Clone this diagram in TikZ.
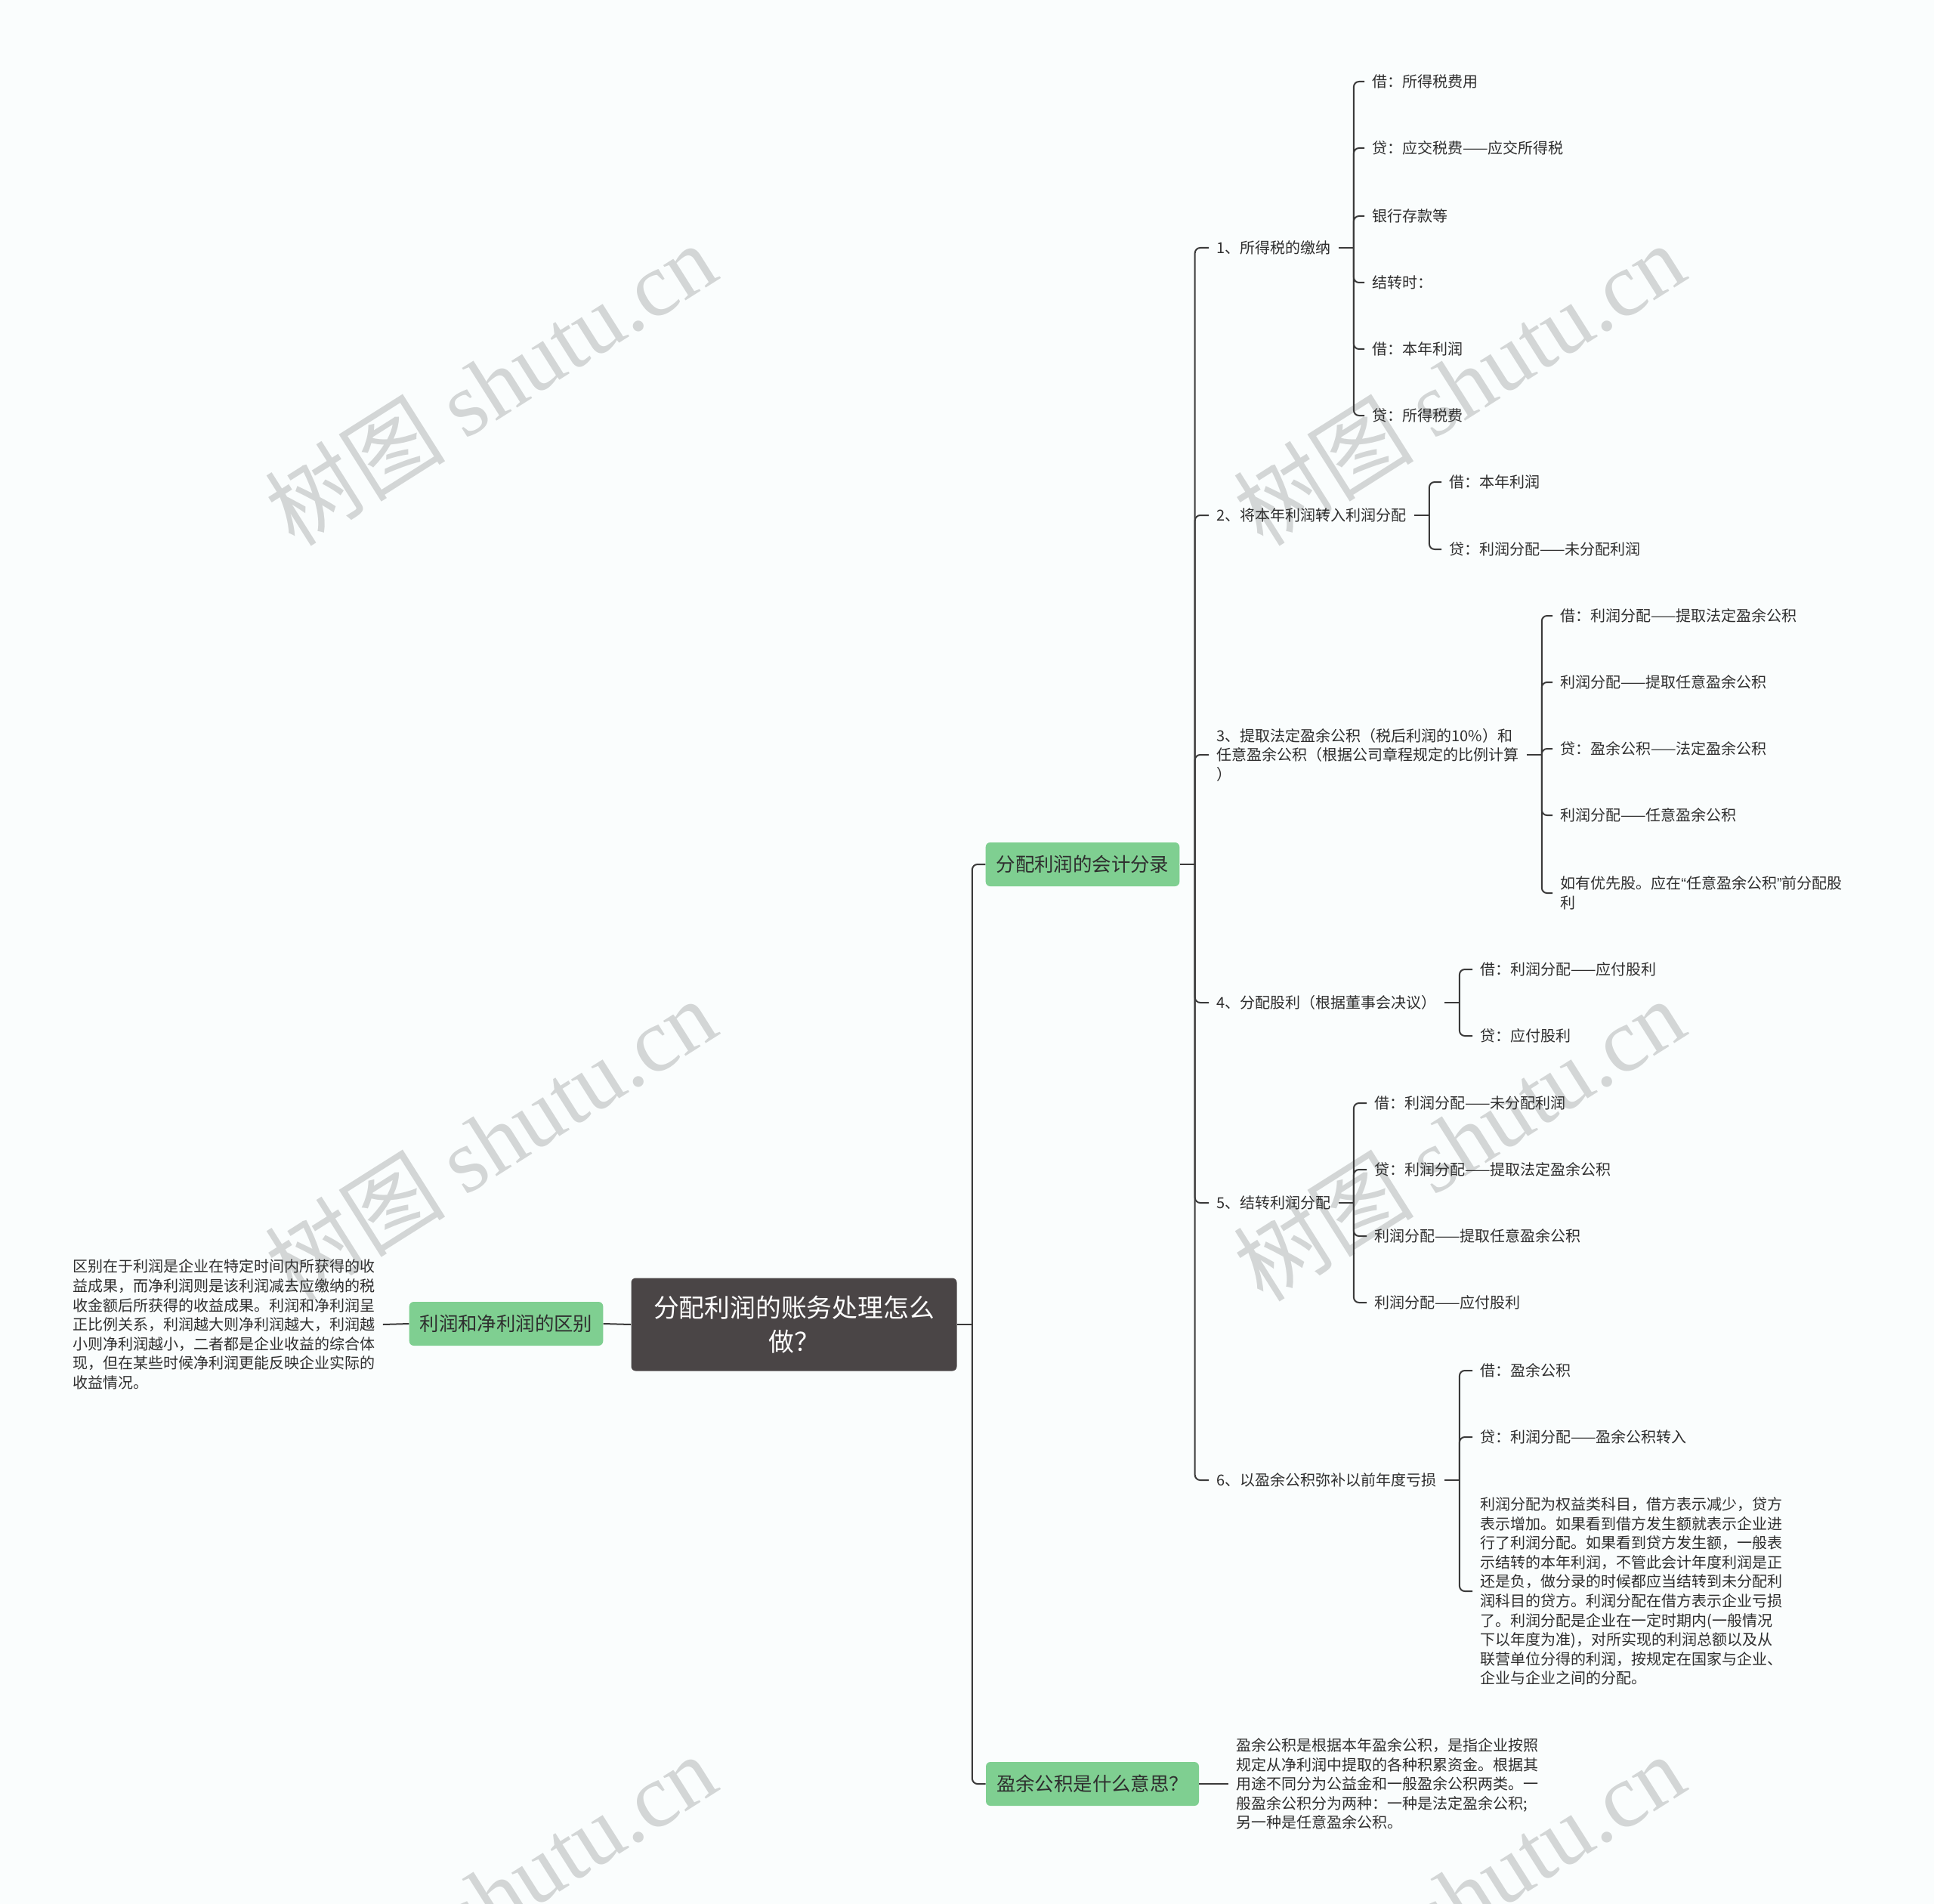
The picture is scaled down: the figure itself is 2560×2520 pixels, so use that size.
\documentclass[tikz,border=0pt]{standalone}
\usepackage{fontspec}
\setmainfont{Noto Sans CJK SC}
\newfontfamily\wmfont{Liberation Serif}
\newfontfamily\qfont{Liberation Sans}
\usepackage{tikz}
\usetikzlibrary{positioning}
\definecolor{rootc}{HTML}{4A4546}
\definecolor{greenc}{HTML}{7FCF91}
\definecolor{linec}{HTML}{3A3A3A}
\definecolor{textc}{HTML}{2E2E2E}
\definecolor{wmc}{HTML}{D3D6D6}
\definecolor{bgc}{HTML}{FAFDFD}

\begin{document}
\begin{tikzpicture}[x=0.5pt,y=-0.5pt]
\tikzstyle{root}=[rounded corners=3pt,fill=rootc,text=white,align=center,minimum width=215.5pt,minimum height=61.5pt,font=\fontsize{16.9pt}{22.9pt}\selectfont]
\tikzstyle{gbox}=[rounded corners=3pt,fill=greenc,text=textc,inner xsep=7pt,minimum height=29pt,font=\fontsize{12.7pt}{15pt}\selectfont]
\tikzstyle{leaf}=[anchor=west,align=left,text=textc,inner xsep=5pt,inner ysep=2pt,font=\fontsize{10pt}{12.8pt}\selectfont]
\tikzstyle{conn}=[draw=linec,line width=1pt,rounded corners=3.5pt]
\tikzstyle{wm}=[text=wmc,rotate=32.3,font=\fontsize{60pt}{60pt}\selectfont]
\fill[bgc] (0,0) rectangle (2560,2520);
\useasboundingbox (0,0) rectangle (2560,2520);
\begin{scope}
\clip (0,0) rectangle (2560,2520);
\node[wm] (wm1) at (649,508) {树图 {\wmfont shutu.cn}};
\node[wm] (wm2) at (1931,508) {树图 {\wmfont shutu.cn}};
\node[wm] (wm3) at (649,1508) {树图 {\wmfont shutu.cn}};
\node[wm] (wm4) at (1931,1508) {树图 {\wmfont shutu.cn}};
\node[wm] (wm5) at (649,2508) {树图 {\wmfont shutu.cn}};
\node[wm] (wm6) at (1931,2508) {树图 {\wmfont shutu.cn}};
\end{scope}
\node[root] (root) at (1051,1753) {分配利润的账务处理怎么\\做？};
\node[gbox] (diff) at (670,1752) {利润和净利润的区别};
\node[leaf] (difftxt) at (86,1753) {区别在于利润是企业在特定时间内所获得的收\\益成果，而净利润则是该利润减去应缴纳的税\\收金额后所获得的收益成果。利润和净利润呈\\正比例关系，利润越大则净利润越大，利润越\\小则净利润越小，二者都是企业收益的综合体\\现，但在某些时候净利润更能反映企业实际的\\收益情况。};
\node[gbox] (entry) at (1433,1144) {分配利润的会计分录};
\node[gbox] (surplus) at (1446,2361) {盈余公积是什么意思？};
\node[leaf] (surtxt) at (1626,2361) {盈余公积是根据本年盈余公积，是指企业按照\\规定从净利润中提取的各种积累资金。根据其\\用途不同分为公益金和一般盈余公积两类。一\\般盈余公积分为两种：一种是法定盈余公积;\\另一种是任意盈余公积。};
\node[leaf] (step1) at (1600,328) {1、所得税的缴纳};
\node[leaf] (step2) at (1600,682) {2、将本年利润转入利润分配};
\node[leaf] (step3) at (1600,999) {3、提取法定盈余公积（税后利润的10\%）和\\任意盈余公积（根据公司章程规定的比例计算\\）};
\node[leaf] (step4) at (1600,1327) {4、分配股利（根据董事会决议）};
\node[leaf] (step5) at (1600,1592) {5、结转利润分配};
\node[leaf] (step6) at (1600,1959) {6、以盈余公积弥补以前年度亏损};
\node[leaf] (tax1) at (1806,108) {借：所得税费用};
\node[leaf] (tax2) at (1806,196) {贷：应交税费——应交所得税};
\node[leaf] (tax3) at (1806,286) {银行存款等};
\node[leaf] (tax4) at (1806,374) {结转时：};
\node[leaf] (tax5) at (1806,462) {借：本年利润};
\node[leaf] (tax6) at (1806,550) {贷：所得税费};
\node[leaf] (move1) at (1908,638) {借：本年利润};
\node[leaf] (move2) at (1908,727) {贷：利润分配——未分配利润};
\node[leaf] (res1) at (2055,815) {借：利润分配——提取法定盈余公积};
\node[leaf] (res2) at (2055,903) {利润分配——提取任意盈余公积};
\node[leaf] (res3) at (2055,991) {贷：盈余公积——法定盈余公积};
\node[leaf] (res4) at (2055,1079) {利润分配——任意盈余公积};
\node[leaf] (res5) at (2055,1182) {如有优先股。应在{\qfont “}任意盈余公积{\qfont ”}前分配股\\利};
\node[leaf] (div1) at (1949,1283) {借：利润分配——应付股利};
\node[leaf] (div2) at (1949,1371) {贷：应付股利};
\node[leaf] (close1) at (1809,1460) {借：利润分配——未分配利润};
\node[leaf] (close2) at (1809,1548) {贷：利润分配——提取法定盈余公积};
\node[leaf] (close3) at (1809,1636) {利润分配——提取任意盈余公积};
\node[leaf] (close4) at (1809,1724) {利润分配——应付股利};
\node[leaf] (cover1) at (1949,1814) {借：盈余公积};
\node[leaf] (cover2) at (1949,1902) {贷：利润分配——盈余公积转入};
\node[leaf] (cover3) at (1949,2106) {利润分配为权益类科目，借方表示减少，贷方\\表示增加。如果看到借方发生额就表示企业进\\行了利润分配。如果看到贷方发生额，一般表\\示结转的本年利润，不管此会计年度利润是正\\还是负，做分录的时候都应当结转到未分配利\\润科目的贷方。利润分配在借方表示企业亏损\\了。利润分配是企业在一定时期内(一般情况\\下以年度为准)，对所实现的利润总额以及从\\联营单位分得的利润，按规定在国家与企业、\\企业与企业之间的分配。};
\draw[conn] (root.west) -- (diff.east);
\draw[conn] (diff.west) -- (difftxt.east);
\draw[conn] (root.east) -- ++(10pt,0);
\foreach \c in {entry,surplus} \draw[conn] (root.east) ++(10pt,0) |- (\c.west);
\draw[conn] (surplus.east) -- (surtxt.west);
\draw[conn] (entry.east) -- ++(10pt,0);
\foreach \i in {1,...,6} \draw[conn] (entry.east) ++(10pt,0) |- (step\i.west);
\draw[conn] (step1.east) -- ++(10pt,0);
\foreach \i in {1,...,6} \draw[conn] (step1.east) ++(10pt,0) |- (tax\i.west);
\draw[conn] (step2.east) -- ++(10pt,0);
\foreach \i in {1,2} \draw[conn] (step2.east) ++(10pt,0) |- (move\i.west);
\draw[conn] (step3.east) -- ++(10pt,0);
\foreach \i in {1,...,5} \draw[conn] (step3.east) ++(10pt,0) |- (res\i.west);
\draw[conn] (step4.east) -- ++(10pt,0);
\foreach \i in {1,2} \draw[conn] (step4.east) ++(10pt,0) |- (div\i.west);
\draw[conn] (step5.east) -- ++(10pt,0);
\foreach \i in {1,...,4} \draw[conn] (step5.east) ++(10pt,0) |- (close\i.west);
\draw[conn] (step6.east) -- ++(10pt,0);
\foreach \i in {1,2,3} \draw[conn] (step6.east) ++(10pt,0) |- (cover\i.west);
\end{tikzpicture}
\end{document}
